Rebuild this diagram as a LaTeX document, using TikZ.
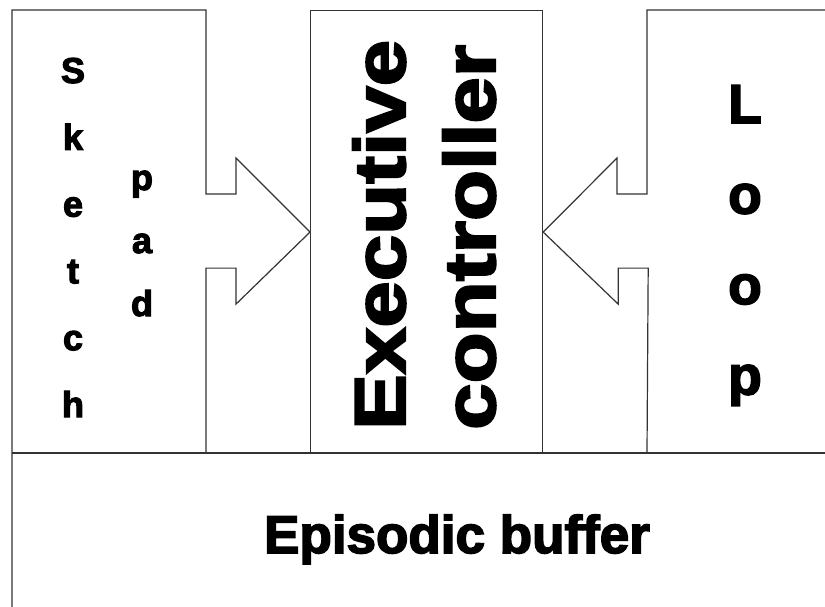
\documentclass[tikz,border=0pt]{standalone}
\usepackage{fontspec}
\setmainfont{Liberation Sans}
\newfontfamily\heavyfont[FakeBold=3]{Liberation Sans Bold}
\newfontfamily\wideheavyfont[FakeBold=3,FakeStretch=1.16]{Liberation Sans Bold}
\usetikzlibrary{positioning}
\tikzset{panel/.style={draw=black!80,line width=1.2pt,line join=miter},
    letter/.style={font=\heavyfont\fontsize{36}{40}\selectfont,inner sep=0,anchor=base},
    bigletter/.style={font=\heavyfont\fontsize{55}{60}\selectfont,inner sep=0,anchor=base},
    sideways/.style={font=\wideheavyfont\fontsize{72}{80}\selectfont,inner sep=0,rotate=90,anchor=base west}
}

\begin{document}
\begin{tikzpicture}[x=1pt,y=-1pt]
\useasboundingbox (0,0) rectangle (825,607);

% middle box
\node (exec) [panel,anchor=north west,inner sep=0,minimum width=232,minimum height=443] at (310,10) {};

% side panels with their arrows
\draw [panel] (12,607) |- (206,10) -- (206,194) -- ++(30,0) -- ++(0,-36) -- (exec.west)
    -- ++(-74,72) -- ++(0,-36) -- ++(-30,0) -- (206,453);
\draw [panel] (825,10) -- (647,10) -- (647,194) -- ++(-30,0) -- ++(0,-36) -- (exec.east)
    -- ++(75,72) -- ++(0,-36) -- ++(30,0) -- (647,453);

% buffer
\draw [panel] (12,453) -- (825,453);

\foreach \ch [count=\i] in {S,k,e,t,c,h}
    \node (sketch\i) [letter] at (73,{83+66.8*(\i-1)}) {\ch};
\foreach \ch [count=\i] in {p,a,d}
    \node (pad\i) [letter] at (142,{190+63*(\i-1)}) {\ch};
\foreach \ch [count=\i] in {L,o,o,p}
    \node (loop\i) [bigletter] at (745,{123+90.5*(\i-1)}) {\ch};

\node (executive) [sideways] at (405,430) {Executive};
\node (controller) [sideways] at (495,430) {controller};

\node (buffer) [font=\heavyfont\fontsize{53}{60}\selectfont,inner sep=0,anchor=base] at (457,553) {Episodic buffer};

\end{tikzpicture}
\end{document}
